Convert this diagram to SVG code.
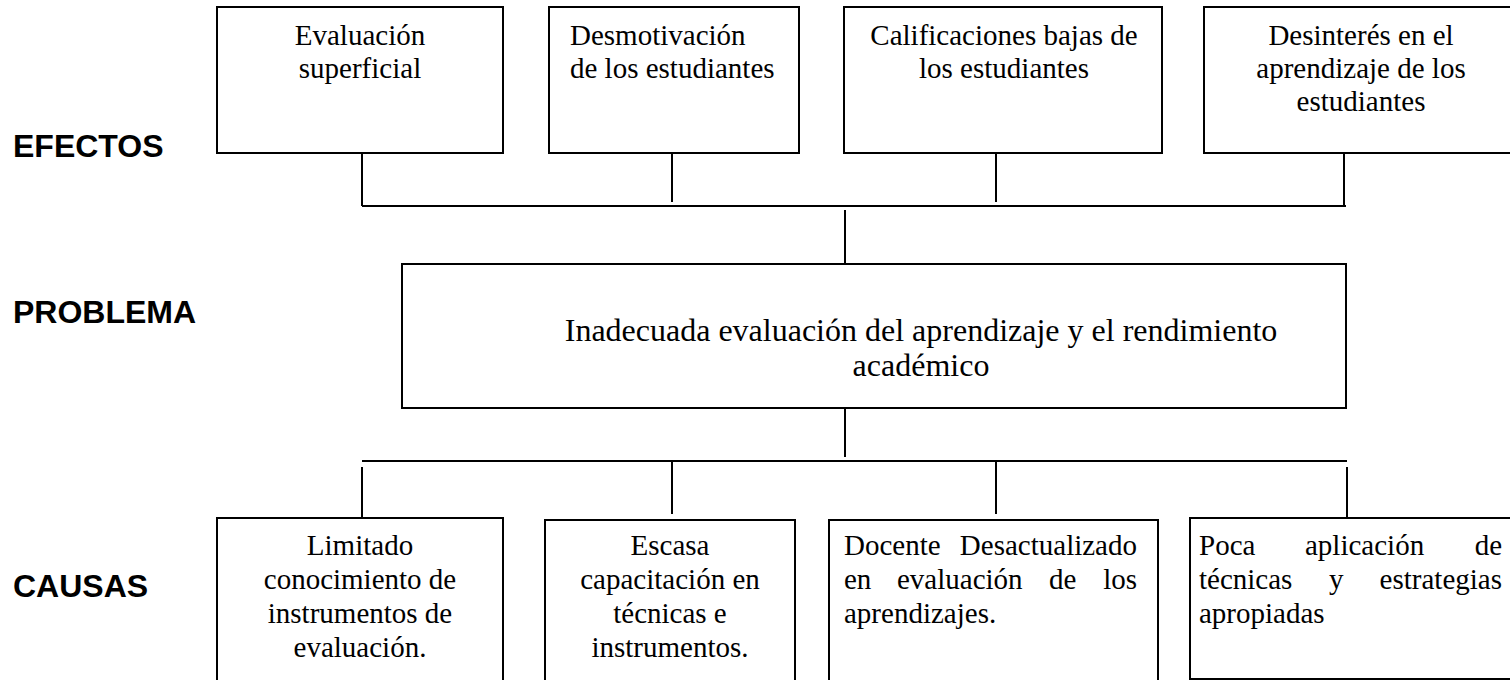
<svg xmlns="http://www.w3.org/2000/svg" width="1510" height="680" viewBox="0 0 1510 680">
<style>
.box{fill:#fff;stroke:#000;stroke-width:2}
.ln{stroke:#000;stroke-width:2;fill:none}
.t{font-family:"Liberation Serif","Times New Roman",serif;font-size:29px;fill:#000}
.tc{text-anchor:middle}
.te{text-anchor:end}
.lab{font-family:"Liberation Sans",Arial,sans-serif;font-size:32px;font-weight:bold;fill:#000}
.p{font-family:"Liberation Serif","Times New Roman",serif;font-size:32px;fill:#000;text-anchor:middle}
</style>
<rect width="1510" height="680" fill="#fff"/>
<g id="labels">
<text class="lab" x="13" y="157">EFECTOS</text>
<text class="lab" x="13" y="323">PROBLEMA</text>
<text class="lab" x="13" y="597">CAUSAS</text>
</g>
<g id="connectors">
<path class="ln" d="M362 153V206M672 148V202M996 148V202M1344 153V206M362 206H1346M845 210V264"/>
<path class="ln" d="M845 408V457M362 461H1347M362 467V521M672 461V514M996 461V514M1347 467V521"/>
</g>
<g id="e1"><rect class="box" x="217" y="7" width="286" height="146"/>
<text class="t tc" x="360" y="45">Evaluación</text><text class="t tc" x="360" y="78">superficial</text></g>
<g id="e2"><rect class="box" x="549" y="7" width="250" height="146"/>
<text class="t" x="570" y="45">Desmotivación</text><text class="t" x="570" y="78">de los estudiantes</text></g>
<g id="e3"><rect class="box" x="844" y="7" width="318" height="146"/>
<text class="t tc" x="1004" y="45">Calificaciones bajas de</text><text class="t tc" x="1004" y="78">los estudiantes</text></g>
<g id="e4"><rect class="box" x="1204" y="7" width="312" height="146"/>
<text class="t tc" x="1361" y="45">Desinterés en el</text><text class="t tc" x="1361" y="78">aprendizaje de los</text><text class="t tc" x="1361" y="111">estudiantes</text></g>
<g id="problema"><rect class="box" x="402" y="264" width="944" height="144"/>
<text class="p" x="921" y="341">Inadecuada evaluación del aprendizaje y el rendimiento</text>
<text class="p" x="921" y="376">académico</text></g>
<g id="c1"><rect class="box" x="217" y="518" width="286" height="180"/>
<text class="t tc" x="360" y="555">Limitado</text><text class="t tc" x="360" y="589">conocimiento de</text><text class="t tc" x="360" y="623">instrumentos de</text><text class="t tc" x="360" y="657">evaluación.</text></g>
<g id="c2"><rect class="box" x="545" y="520" width="250" height="180"/>
<text class="t tc" x="670" y="555">Escasa</text><text class="t tc" x="670" y="589">capacitación en</text><text class="t tc" x="670" y="623">técnicas e</text><text class="t tc" x="670" y="657">instrumentos.</text></g>
<g id="c3"><rect class="box" x="829" y="520" width="329" height="180"/>
<text class="t" x="844" y="555">Docente</text><text class="t te" x="1137" y="555">Desactualizado</text>
<text class="t" x="844" y="589">en</text><text class="t" x="897" y="589">evaluación</text><text class="t" x="1049" y="589">de</text><text class="t te" x="1137" y="589">los</text>
<text class="t" x="844" y="623">aprendizajes.</text></g>
<g id="c4"><rect class="box" x="1190" y="518" width="330" height="161"/>
<text class="t" x="1199" y="555">Poca</text><text class="t" x="1305" y="555">aplicación</text><text class="t te" x="1502" y="555">de</text>
<text class="t" x="1199" y="589">técnicas</text><text class="t" x="1329" y="589">y</text><text class="t te" x="1502" y="589">estrategias</text>
<text class="t" x="1199" y="623">apropiadas</text></g>
</svg>
